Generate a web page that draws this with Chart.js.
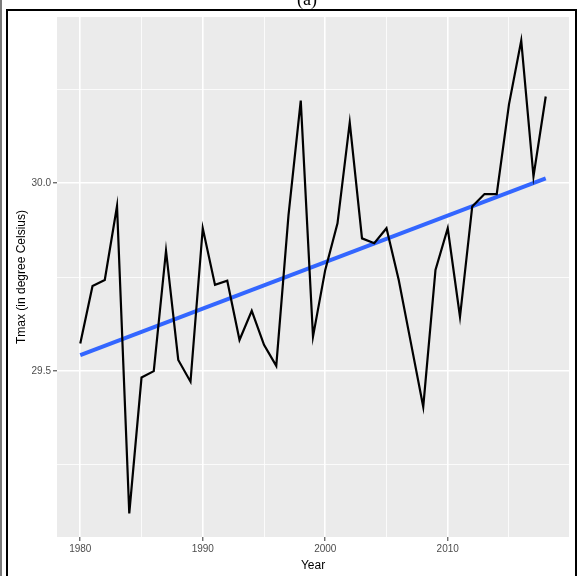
<!DOCTYPE html>
<html>
<head>
<meta charset="utf-8">
<title>Tmax trend</title>
<script src="https://cdn.jsdelivr.net/npm/chart.js@4.4.1/dist/chart.umd.min.js"></script>
<style>
  html, body { margin: 0; padding: 0; background: #ffffff; }
  canvas { display: block; }
</style>
</head>
<body>
<canvas id="c" width="581" height="576"></canvas>
<script>
// Annual mean maximum temperature (degree Celsius), 1980-2018
const years = [
  1980, 1981, 1982, 1983, 1984, 1985, 1986, 1987, 1988, 1989,
  1990, 1991, 1992, 1993, 1994, 1995, 1996, 1997, 1998, 1999,
  2000, 2001, 2002, 2003, 2004, 2005, 2006, 2007, 2008, 2009,
  2010, 2011, 2012, 2013, 2014, 2015, 2016, 2017, 2018
];
const tmax = [
  29.573, 29.726, 29.742, 29.939, 29.120, 29.482, 29.499, 29.820, 29.529, 29.471,
  29.880, 29.729, 29.740, 29.582, 29.660, 29.569, 29.513, 29.915, 30.220, 29.591,
  29.769, 29.893, 30.162, 29.853, 29.840, 29.880, 29.742, 29.573, 29.404, 29.769,
  29.880, 29.644, 29.938, 29.971, 29.971, 30.210, 30.380, 30.018, 30.231
];

// Linear fit (end points of the fitted line)
const trendYears = [1980, 2018];
const trendValues = [29.542, 30.013];

// Axis breaks
const xBreaks = [1980, 1985, 1990, 1995, 2000, 2005, 2010, 2015];
const xLabelled = [1980, 1990, 2000, 2010];
const yBreaks = [29.25, 29.5, 29.75, 30.0, 30.25];
const yLabelled = [29.5, 30.0];

const xRange = [1978.1, 2019.9];
const yRange = [29.057, 30.443];

const FONT = '"Liberation Sans", Arial, sans-serif';

const isMajorX = v => xLabelled.includes(v);
const isMajorY = v => yLabelled.some(b => Math.abs(b - v) < 1e-9);

// Grey panel behind the plotting area, plus the outer frame and panel tag
const panelDecor = {
  id: 'panelDecor',
  beforeDraw(chart) {
    const { ctx, chartArea: a } = chart;
    ctx.save();
    ctx.fillStyle = '#EBEBEB';
    ctx.fillRect(a.left, a.top, a.right - a.left, a.bottom - a.top);
    ctx.restore();
  },
  afterDraw(chart) {
    const { ctx } = chart;
    ctx.save();
    ctx.strokeStyle = '#000000';
    ctx.lineWidth = 2;
    ctx.beginPath();
    ctx.moveTo(7, 590);
    ctx.lineTo(7, 10);
    ctx.lineTo(576, 10);
    ctx.lineTo(576, 590);
    ctx.stroke();
    ctx.lineWidth = 1.2;
    ctx.strokeStyle = '#222222';
    ctx.beginPath();
    ctx.moveTo(1, 0);
    ctx.lineTo(1, 576);
    ctx.stroke();
    ctx.fillStyle = '#000000';
    ctx.font = '18px "Liberation Serif", "Times New Roman", serif';
    ctx.textAlign = 'center';
    ctx.textBaseline = 'alphabetic';
    ctx.fillText('(a)', 307, 4.5);
    ctx.restore();
  }
};

new Chart(document.getElementById('c'), {
  type: 'line',
  data: {
    datasets: [
      {
        label: 'Tmax',
        data: years.map((y, i) => ({ x: y, y: tmax[i] })),
        borderColor: '#000000',
        borderWidth: 2.2,
        pointRadius: 0,
        tension: 0,
        fill: false
      },
      {
        label: 'Linear trend',
        data: trendYears.map((y, i) => ({ x: y, y: trendValues[i] })),
        borderColor: '#3366FF',
        borderWidth: 4,
        pointRadius: 0,
        tension: 0,
        fill: false
      }
    ]
  },
  options: {
    responsive: false,
    animation: false,
    devicePixelRatio: 1,
    layout: { padding: { left: 0, top: 17, right: 12, bottom: 0 } },
    plugins: {
      legend: { display: false },
      tooltip: { enabled: false }
    },
    scales: {
      x: {
        type: 'linear',
        min: xRange[0],
        max: xRange[1],
        afterBuildTicks(scale) {
          scale.ticks = xBreaks.map(v => ({ value: v }));
        },
        afterFit(scale) { scale.height = 39; },
        border: { display: false },
        grid: {
          color: '#FFFFFF',
          lineWidth: ctx => isMajorX(ctx.tick.value) ? 1.6 : 0.8,
          tickColor: ctx => isMajorX(ctx.tick.value) ? '#333333' : 'rgba(0,0,0,0)',
          tickLength: 4,
          tickWidth: 1
        },
        ticks: {
          autoSkip: false,
          maxRotation: 0,
          padding: 2,
          color: '#4D4D4D',
          font: { family: FONT, size: 10 },
          callback: v => isMajorX(v) ? String(v) : ''
        },
        title: {
          display: true,
          text: 'Year',
          color: '#000000',
          font: { family: FONT, size: 12 },
          padding: { top: 0, bottom: 3 }
        }
      },
      y: {
        type: 'linear',
        min: yRange[0],
        max: yRange[1],
        afterBuildTicks(scale) {
          scale.ticks = yBreaks.map(v => ({ value: v }));
        },
        afterFit(scale) { scale.width = 57; },
        border: { display: false },
        grid: {
          color: '#FFFFFF',
          lineWidth: ctx => isMajorY(ctx.tick.value) ? 1.6 : 0.8,
          tickColor: ctx => isMajorY(ctx.tick.value) ? '#333333' : 'rgba(0,0,0,0)',
          tickLength: 4,
          tickWidth: 1
        },
        ticks: {
          autoSkip: false,
          padding: 2,
          color: '#4D4D4D',
          font: { family: FONT, size: 10 },
          callback: v => isMajorY(v) ? v.toFixed(1) : ''
        },
        title: {
          display: true,
          text: 'Tmax (in degree Celsius)',
          color: '#000000',
          font: { family: FONT, size: 12 },
          padding: { top: 14, bottom: 0 }
        }
      }
    }
  },
  plugins: [panelDecor]
});
</script>
</body>
</html>
